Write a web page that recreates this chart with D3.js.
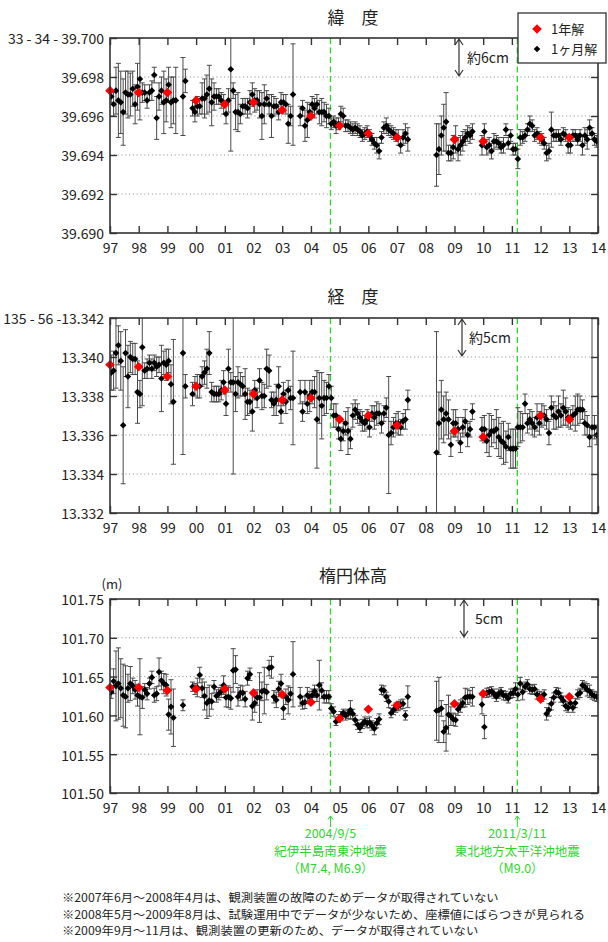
<!DOCTYPE html>
<html><head><meta charset="utf-8">
<script src="https://cdn.jsdelivr.net/npm/d3@7"></script>
<style>
body{margin:0;background:#fff}
text{font-family:"Noto Sans CJK JP","Noto Sans",sans-serif;fill:#222}
</style>
</head><body>
<svg id="chart" width="608" height="942"></svg>
<script>
// ---- data -------------------------------------------------------------
const yearTicks = [1997,1998,1999,2000,2001,2002,2003,2004,2005,2006,2007,2008,2009,2010,2011,2012,2013,2014];
const yearLabels = ["97","98","99","00","01","02","03","04","05","06","07","08","09","10","11","12","13","14"];
const annualYears = [1997,1998,1999,2000,2001,2002,2003,2004,2005,2006,2007,2009,2010,2012,2013];
const eventDates = [2004.68, 2011.19];
const eventLabels = [["2004/9/5","紀伊半島南東沖地震","（M7.4, M6.9）"],["2011/3/11","東北地方太平洋沖地震","（M9.0）"]];

// latitude (seconds), monthly solutions Jan 1997 - Dec 2013
const latMonthly = [
 39.6970,39.6966,39.6973,39.6968,39.6967,39.6962,39.6972,39.6971,39.6971,39.6974,39.6966,39.6975,
 39.6979,39.6972,39.6972,39.6968,39.6972,39.6973,39.6981,39.6959,39.6970,39.6973,39.6967,39.6968,
 39.6976,39.6967,39.6968,39.6968,null,null,39.6970,39.6978,null,null,39.6964,39.6962,
 39.6965,39.6965,39.6969,39.6969,39.6971,39.6974,39.6967,39.6970,39.6970,39.6970,39.6968,39.6966,
 39.6961,39.6968,39.6984,39.6973,39.6962,39.6962,39.6961,39.6965,39.6965,39.6964,39.6967,39.6971,
 39.6968,39.6968,39.6966,39.6960,39.6966,39.6969,39.6966,39.6960,39.6965,39.6965,39.6962,39.6967,
 39.6967,39.6966,39.6956,39.6960,39.6971,null,null,39.6960,39.6964,39.6955,39.6958,39.6962,
 39.6966,39.6964,39.6966,39.6962,39.6962,39.6962,39.6960,39.6960,39.6956,39.6957,39.6955,39.6956,
 39.6961,39.6960,39.6955,39.6955,39.6954,39.6953,39.6954,39.6953,39.6952,39.6950,39.6951,39.6952,
 39.6950,39.6948,39.6946,39.6945,39.6942,39.6949,39.6954,39.6955,39.6953,39.6952,39.6951,39.6950,
 39.6949,39.6945,39.6949,39.6951,39.6948,null,null,null,null,null,null,null,
 null,null,null,null,39.6940,39.6943,39.6950,39.6954,39.6957,39.6941,39.6941,39.6944,
 39.6948,39.6943,39.6945,39.6947,39.6949,39.6951,39.6950,39.6952,null,null,null,39.6945,
 39.6952,39.6944,39.6945,39.6942,39.6947,39.6947,39.6946,39.6944,39.6945,39.6953,39.6946,39.6950,
 39.6943,39.6943,39.6938,39.6949,39.6949,39.6950,39.6953,39.6956,39.6955,39.6950,39.6951,39.6949,
 39.6948,39.6946,39.6941,39.6942,39.6953,39.6950,39.6950,39.6950,39.6948,39.6951,39.6950,39.6945,
 39.6945,39.6950,39.6950,39.6948,39.6950,39.6945,39.6950,39.6948,39.6954,39.6951,39.6948,39.6947
];
const latMonthlyErr = [
 0.0003,0.0006,0.0012,0.0019,0.0016,0.0017,0.0011,0.0012,0.0011,0.0009,0.0010,0.0012,
 0.0021,0.0005,0.0004,0.0004,0.0004,0.0005,0.0004,0.0011,0.0007,0.0007,0.0016,0.0011,
 0.0009,0.0013,0.0012,0.0017,null,null,0.0020,0.0006,null,null,0.0004,0.0005,
 0.0005,0.0004,0.0008,0.0010,0.0010,0.0012,0.0012,0.0007,0.0004,0.0004,0.0004,0.0005,
 0.0005,0.0006,0.0042,0.0004,0.0009,0.0010,0.0005,0.0004,0.0004,0.0005,0.0006,0.0006,
 0.0006,0.0005,0.0007,0.0012,0.0010,0.0004,0.0005,0.0011,0.0005,0.0004,0.0004,0.0005,
 0.0004,0.0005,0.0010,0.0005,0.0026,null,null,0.0005,0.0004,0.0008,0.0009,0.0004,
 0.0004,0.0005,0.0005,0.0006,0.0007,0.0005,0.0006,0.0004,0.0003,0.0003,0.0004,0.0003,
 0.0004,0.0004,0.0003,0.0003,0.0003,0.0003,0.0003,0.0003,0.0003,0.0003,0.0003,0.0003,
 0.0003,0.0003,0.0003,0.0004,0.0004,0.0003,0.0003,0.0004,0.0003,0.0003,0.0003,0.0003,
 0.0004,0.0004,0.0004,0.0005,0.0006,null,null,null,null,null,null,null,
 null,null,null,null,0.0016,0.0013,0.0010,0.0012,0.0015,0.0004,0.0004,0.0006,
 0.0007,0.0006,0.0005,0.0005,0.0004,0.0004,0.0004,0.0004,null,null,null,0.0005,
 0.0004,0.0004,0.0004,0.0004,0.0004,0.0003,0.0003,0.0003,0.0004,0.0003,0.0003,0.0003,
 0.0003,0.0003,0.0005,0.0004,0.0003,0.0003,0.0003,0.0004,0.0003,0.0003,0.0003,0.0003,
 0.0003,0.0003,0.0004,0.0004,0.0009,0.0003,0.0003,0.0003,0.0003,0.0003,0.0003,0.0004,
 0.0004,0.0003,0.0003,0.0003,0.0003,0.0005,0.0004,0.0005,0.0004,0.0003,0.0003,0.0003
];
const latAnnual = [39.6973,39.6972,39.6972,39.6968,39.6966,39.6967,39.6963,39.6960,39.6955,39.6951,39.6949,39.6948,39.6947,39.6949,39.6949];
const latTicks = [39.690,39.692,39.694,39.696,39.698,39.700];
const latTickLabels = ["39.690","39.692","39.694","39.696","39.698","33 - 34 - 39.700"];
const latScaleBar = [39.698, 39.700];

// longitude (seconds)
const lonMonthly = [
 13.3392,13.3393,13.3402,13.3406,13.3398,13.3365,13.3402,13.3390,13.3400,13.3399,13.3399,13.3382,
 13.3381,13.3405,13.3393,13.3394,13.3397,13.3394,13.3397,13.3395,13.3396,13.3389,13.3397,13.3396,
 13.3398,13.3386,13.3377,null,null,null,13.3402,13.3385,null,null,13.3381,13.3385,
 13.3385,13.3385,13.3390,13.3392,13.3394,13.3402,13.3382,13.3381,13.3381,13.3381,13.3383,13.3387,
 13.3376,13.3394,13.3387,13.3387,13.3381,13.3387,13.3386,13.3385,13.3381,13.3377,13.3377,13.3372,
 13.3383,13.3379,13.3388,13.3380,13.3380,13.3394,13.3393,13.3378,13.3376,13.3378,13.3385,13.3372,
 13.3381,13.3377,13.3383,13.3379,13.3379,null,null,13.3382,13.3372,13.3382,13.3376,13.3380,
 13.3382,13.3382,13.3368,13.3379,13.3375,13.3379,13.3379,13.3385,13.3379,13.3370,13.3370,13.3363,
 13.3358,13.3362,13.3366,13.3362,13.3358,13.3370,13.3373,13.3371,13.3369,13.3367,13.3366,13.3368,
 13.3364,13.3371,13.3369,13.3371,13.3371,13.3366,13.3371,13.3374,13.3360,13.3361,13.3364,13.3366,
 13.3366,13.3364,13.3367,13.3368,13.3378,null,null,null,null,null,null,null,
 null,null,null,null,13.3351,13.3366,13.3373,13.3368,13.3371,13.3368,13.3355,13.3366,
 13.3366,13.3363,13.3356,13.3364,13.3367,13.3360,13.3363,13.3372,null,null,null,13.3363,
 13.3363,13.3357,13.3360,13.3362,13.3362,13.3363,13.3359,13.3357,13.3356,13.3354,13.3359,13.3353,
 13.3353,13.3353,13.3364,13.3364,13.3364,13.3376,13.3366,13.3368,13.3366,13.3364,13.3369,13.3366,
 13.3370,13.3370,13.3368,13.3361,13.3374,13.3370,13.3369,13.3372,13.3370,13.3374,13.3372,13.3369,
 13.3368,13.3370,13.3371,13.3373,13.3373,13.3373,13.3366,13.3365,13.3359,13.3364,13.3364,13.3360
];
const lonMonthlyErr = [
 0.0009,0.0010,0.0018,0.0010,0.0015,0.0030,0.0012,0.0016,0.0008,0.0008,0.0008,0.0016,
 0.0007,0.0030,0.0004,0.0005,0.0004,0.0005,0.0004,0.0005,0.0004,0.0017,0.0006,0.0008,
 0.0006,0.0010,0.0032,null,null,null,0.0052,0.0006,null,null,0.0006,0.0005,
 0.0006,0.0006,0.0005,0.0006,0.0010,0.0011,0.0005,0.0004,0.0004,0.0004,0.0005,0.0006,
 0.0006,0.0010,0.0005,0.0047,0.0009,0.0008,0.0006,0.0005,0.0013,0.0007,0.0006,0.0010,
 0.0005,0.0005,0.0006,0.0007,0.0006,0.0010,0.0008,0.0004,0.0006,0.0008,0.0010,0.0006,
 0.0006,0.0006,0.0005,0.0006,0.0024,null,null,0.0006,0.0005,0.0006,0.0005,0.0008,
 0.0006,0.0008,0.0025,0.0013,0.0017,0.0009,0.0008,0.0006,0.0006,0.0006,0.0006,0.0005,
 0.0006,0.0005,0.0006,0.0012,0.0005,0.0006,0.0005,0.0005,0.0004,0.0005,0.0004,0.0005,
 0.0005,0.0004,0.0006,0.0006,0.0005,0.0005,0.0004,0.0005,0.0030,0.0006,0.0005,0.0005,
 0.0006,0.0004,0.0004,0.0005,0.0005,null,null,null,null,null,null,null,
 null,null,null,null,0.0062,0.0016,0.0015,0.0012,0.0011,0.0010,0.0006,0.0007,
 0.0007,0.0006,0.0005,0.0005,0.0006,0.0006,0.0004,0.0004,null,null,null,0.0006,
 0.0007,0.0006,0.0011,0.0008,0.0006,0.0010,0.0010,0.0009,0.0011,0.0008,0.0007,0.0010,
 0.0010,0.0010,0.0010,0.0008,0.0007,0.0005,0.0005,0.0005,0.0006,0.0005,0.0007,0.0006,
 0.0006,0.0005,0.0005,0.0006,0.0006,0.0007,0.0006,0.0008,0.0006,0.0009,0.0007,0.0005,
 0.0005,0.0005,0.0009,0.0008,0.0007,0.0005,0.0006,0.0005,0.0005,0.0060,0.0006,0.0005
];
const lonAnnual = [13.3396,13.3395,13.3390,13.3385,13.3383,13.3381,13.3378,13.3379,13.3368,13.3370,13.3365,13.3362,13.3359,13.3370,13.3368];
const lonTicks = [13.332,13.334,13.336,13.338,13.340,13.342];
const lonTickLabels = ["13.332","13.334","13.336","13.338","13.340","135 - 56 -13.342"];
const lonScaleBar = [13.340, 13.342];

// ellipsoidal height (m)
const hgtMonthly = [
 101.630,101.644,101.638,101.641,101.635,101.626,101.624,101.635,101.641,101.638,101.633,101.626,
 101.624,101.623,101.633,101.628,101.641,101.649,101.626,101.628,101.656,101.645,101.641,101.639,
 101.601,101.611,101.597,null,null,null,101.613,null,null,null,101.637,101.634,
 101.636,101.652,101.635,101.625,101.616,101.619,101.618,101.637,101.625,101.628,101.631,101.639,
 101.623,101.624,101.622,101.658,101.659,101.624,101.629,101.629,101.621,101.648,101.653,101.612,
 101.616,101.623,101.623,101.631,101.632,101.630,101.661,101.662,101.624,101.620,101.634,101.641,
 101.609,101.624,101.620,101.628,101.653,null,null,101.624,101.616,101.617,101.626,101.623,
 101.626,101.631,101.626,101.639,101.632,101.624,101.624,101.624,101.609,101.605,101.592,101.596,
 101.599,101.603,101.600,101.602,101.607,101.602,101.594,101.588,101.584,101.589,101.592,101.590,
 101.591,101.587,101.583,101.590,101.595,101.633,101.632,101.624,101.618,101.603,101.607,101.610,
 101.612,101.614,101.615,101.600,101.624,null,null,null,null,null,null,null,
 null,null,null,null,101.606,101.607,101.609,101.579,101.584,101.601,101.599,101.595,
 101.594,101.608,101.612,101.616,101.623,101.624,101.624,101.624,null,null,null,101.614,
 101.585,101.629,101.630,101.631,101.628,101.624,101.628,101.630,101.626,101.625,101.622,101.628,
 101.629,101.634,101.627,101.641,101.630,101.637,101.640,101.634,101.633,101.634,101.627,101.625,
 101.624,101.627,101.602,101.607,101.615,101.623,101.630,101.629,101.623,101.619,101.612,101.610,
 101.616,101.610,101.616,101.627,101.629,101.639,101.637,101.633,101.631,101.627,101.625,101.624
];
const hgtMonthlyErr = [
 0.008,0.016,0.045,0.046,0.038,0.040,0.040,0.018,0.022,0.010,0.012,0.014,
 0.049,0.014,0.008,0.008,0.007,0.008,0.009,0.009,0.018,0.012,0.013,0.014,
 0.020,0.035,0.037,null,null,null,0.007,null,null,null,0.006,0.007,
 0.012,0.010,0.012,0.018,0.020,0.020,0.010,0.008,0.008,0.008,0.008,0.012,
 0.012,0.014,0.014,0.028,0.018,0.012,0.010,0.009,0.010,0.009,0.008,0.018,
 0.012,0.010,0.032,0.012,0.030,0.010,0.010,0.014,0.008,0.010,0.010,0.012,
 0.014,0.010,0.018,0.008,0.042,null,null,0.012,0.008,0.008,0.010,0.008,
 0.008,0.008,0.008,0.032,0.010,0.008,0.008,0.008,0.006,0.006,0.005,0.005,
 0.006,0.005,0.006,0.006,0.012,0.006,0.006,0.006,0.006,0.006,0.006,0.006,
 0.007,0.006,0.008,0.006,0.007,0.006,0.006,0.006,0.008,0.006,0.006,0.006,
 0.006,0.006,0.006,0.006,0.014,null,null,null,null,null,null,null,
 null,null,null,null,0.038,0.042,0.010,0.014,0.030,0.025,0.012,0.008,
 0.008,0.008,0.008,0.006,0.012,0.010,0.008,0.012,null,null,null,0.012,
 0.015,0.006,0.006,0.006,0.006,0.006,0.006,0.006,0.006,0.006,0.006,0.006,
 0.006,0.008,0.008,0.008,0.010,0.006,0.006,0.006,0.006,0.006,0.006,0.006,
 0.006,0.006,0.008,0.008,0.008,0.006,0.006,0.006,0.006,0.006,0.006,0.006,
 0.006,0.006,0.006,0.006,0.006,0.006,0.006,0.008,0.008,0.006,0.006,0.006
];
const hgtAnnual = [101.636,101.636,101.632,101.634,101.634,101.629,101.627,101.617,101.596,101.608,101.613,101.615,101.628,101.621,101.624];
const hgtTicks = [101.50,101.55,101.60,101.65,101.70,101.75];
const hgtTickLabels = ["101.50","101.55","101.60","101.65","101.70","101.75"];
const hgtScaleBar = [101.70, 101.75];

const footnotes = [
 "※2007年6月～2008年4月は、観測装置の故障のためデータが取得されていない",
 "※2008年5月～2009年8月は、試験運用中でデータが少ないため、座標値にばらつきが見られる",
 "※2009年9月～11月は、観測装置の更新のため、データが取得されていない"
];

// ---- layout -------------------------------------------------------------
const svg = d3.select("#chart");
const X0 = 110, X1 = 598;
const x = d3.scaleLinear().domain([1997, 2014]).range([X0, X1]);
const monthTime = i => 1997 + (i + 0.5) / 12;
const GREEN = "#2bd62b";

const panels = [
 {title:"緯　度", titleY:18, top:38, bottom:233, domain:[39.690,39.700], ticks:latTicks, labels:latTickLabels,
  monthly:latMonthly, err:latMonthlyErr, annual:latAnnual, bar:latScaleBar, barX:459, barText:"約6cm", barTextX:467},
 {title:"経　度", titleY:297, top:318, bottom:513, domain:[13.332,13.342], ticks:lonTicks, labels:lonTickLabels,
  monthly:lonMonthly, err:lonMonthlyErr, annual:lonAnnual, bar:lonScaleBar, barX:462, barText:"約5cm", barTextX:469},
 {title:"楕円体高", titleY:576, top:599, bottom:793, domain:[101.50,101.75], ticks:hgtTicks, labels:hgtTickLabels,
  monthly:hgtMonthly, err:hgtMonthlyErr, annual:hgtAnnual, bar:hgtScaleBar, barX:464, barText:"5cm", barTextX:475}
];

const diamond = r => `M0,${-r}L${r},0L0,${r}L${-r},0Z`;

panels.forEach((p, pi) => {
  const y = d3.scaleLinear().domain(p.domain).range([p.bottom, p.top]);
  const g = svg.append("g");
  const clipId = "plotclip" + pi;
  svg.append("clipPath").attr("id", clipId).append("rect")
    .attr("x", X0).attr("y", p.top).attr("width", X1 - X0).attr("height", p.bottom - p.top);

  // title
  g.append("text").attr("x", 353).attr("y", p.titleY).attr("dy", "0.35em")
    .attr("text-anchor", "middle").attr("font-size", 17).text(p.title);

  // dotted grid
  g.append("g").selectAll("line").data(p.ticks.slice(1, -1)).join("line")
    .attr("x1", X0).attr("x2", X1).attr("y1", d => y(d)).attr("y2", d => y(d))
    .attr("stroke", "#9a9a9a").attr("stroke-width", 1).attr("stroke-dasharray", "1.2,2.6");

  // earthquake dates
  g.append("g").selectAll("line").data(eventDates).join("line")
    .attr("x1", d => x(d)).attr("x2", d => x(d)).attr("y1", p.top).attr("y2", p.bottom)
    .attr("stroke", GREEN).attr("stroke-width", 1.3).attr("stroke-dasharray", "6,3.5");

  // monthly solutions with error bars
  const pts = p.monthly.map((v, i) => ({t: monthTime(i), v, e: p.err[i]})).filter(d => d.v != null);
  const eb = g.append("g").attr("clip-path", `url(#${clipId})`)
    .attr("stroke", "#4a4a4a").attr("stroke-width", 1).attr("fill", "none");
  eb.selectAll("path").data(pts).join("path")
    .attr("d", d => {
      const xx = x(d.t), y1 = y(d.v - d.e), y2 = y(d.v + d.e);
      return `M${xx},${y1}V${y2}M${xx - 2.5},${y1}H${xx + 2.5}M${xx - 2.5},${y2}H${xx + 2.5}`;
    });
  g.append("g").attr("clip-path", `url(#${clipId})`).selectAll("path").data(pts).join("path")
    .attr("transform", d => `translate(${x(d.t)},${y(d.v)})`)
    .attr("d", diamond(3.3)).attr("fill", "#000");

  // annual solutions
  g.append("g").selectAll("path").data(p.annual.map((v, i) => ({t: annualYears[i], v}))).join("path")
    .attr("transform", d => `translate(${x(d.t)},${y(d.v)})`)
    .attr("d", diamond(4.8)).attr("fill", "#ff0000");

  // axes (inward ticks)
  const bottomAxis = d3.axisBottom(x).tickValues(yearTicks).tickFormat((d, i) => yearLabels[i])
    .tickSizeInner(-7).tickSizeOuter(0).tickPadding(10);
  const ax = g.append("g").attr("transform", `translate(0,${p.bottom})`).call(bottomAxis);
  const topAxis = d3.axisTop(x).tickValues(yearTicks).tickFormat("").tickSizeInner(-7).tickSizeOuter(0);
  const at = g.append("g").attr("transform", `translate(0,${p.top})`).call(topAxis);
  const leftAxis = d3.axisLeft(y).tickValues(p.ticks).tickFormat((d, i) => p.labels[i])
    .tickSizeInner(-7).tickSizeOuter(0).tickPadding(6);
  const al = g.append("g").attr("transform", `translate(${X0},0)`).call(leftAxis);
  const rightAxis = d3.axisRight(y).tickValues(p.ticks).tickFormat("").tickSizeInner(-7).tickSizeOuter(0);
  const ar = g.append("g").attr("transform", `translate(${X1},0)`).call(rightAxis);
  [ax, at, al, ar].forEach(a => {
    a.select(".domain").remove();
    a.selectAll(".tick line").attr("stroke", "#333").attr("stroke-width", 1.4);
    a.selectAll("text").attr("font-size", 14).attr("fill", "#222")
      .attr("font-family", '"Noto Sans CJK JP","Noto Sans",sans-serif');
  });
  al.selectAll("text").attr("dy", "0.42em");

  // frame
  g.append("rect").attr("x", X0).attr("y", p.top).attr("width", X1 - X0).attr("height", p.bottom - p.top)
    .attr("fill", "none").attr("stroke", "#333").attr("stroke-width", 1.6);

  // size bar (double arrow)
  const ya = y(p.bar[1]), yb = y(p.bar[0]), bx = p.barX;
  g.append("path")
    .attr("d", `M${bx},${ya + 1}V${yb - 1}M${bx - 4},${ya + 7}L${bx},${ya + 1}L${bx + 4},${ya + 7}M${bx - 4},${yb - 7}L${bx},${yb - 1}L${bx + 4},${yb - 7}`)
    .attr("fill", "none").attr("stroke", "#333").attr("stroke-width", 1.2);
  g.append("text").attr("x", p.barTextX).attr("y", (ya + yb) / 2 + 1).attr("dy", "0.35em")
    .attr("font-size", 14).text(p.barText);
});

// unit label for height panel
svg.append("text").attr("x", 112).attr("y", 584).attr("dy", "0.35em").attr("text-anchor", "middle")
  .attr("font-size", 13).text("(m)");

// legend
const lg = svg.append("g");
lg.append("rect").attr("x", 518).attr("y", 13).attr("width", 88).attr("height", 50)
  .attr("fill", "#fff").attr("stroke", "#333").attr("stroke-width", 1.3);
lg.append("path").attr("transform", "translate(537,29)").attr("d", diamond(4.8)).attr("fill", "#ff0000");
lg.append("text").attr("x", 551).attr("y", 29).attr("dy", "0.35em").attr("font-size", 13).text("1年解");
lg.append("path").attr("transform", "translate(537,49)").attr("d", diamond(3.3)).attr("fill", "#000");
lg.append("text").attr("x", 551).attr("y", 49).attr("dy", "0.35em").attr("font-size", 13).text("1ヶ月解");

// earthquake notes under the height panel
eventDates.forEach((d, i) => {
  const xx = x(d);
  svg.append("path").attr("d", `M${xx},827V816M${xx - 2.5},819.5L${xx},816L${xx + 2.5},819.5`)
    .attr("fill", "none").attr("stroke", GREEN).attr("stroke-width", 1);
  eventLabels[i].forEach((s, k) => {
    svg.append("text").attr("x", xx).attr("y", 834 + k * 17.5).attr("dy", "0.35em")
      .attr("text-anchor", "middle").attr("font-size", 12.5).style("fill", GREEN).text(s);
  });
});

// footnotes (slightly widened glyphs, compact line height)
footnotes.forEach((s, k) => {
  svg.append("text").attr("transform", `translate(62,${898 + k * 16.6}) scale(1.09,1)`)
    .attr("dy", "0.35em").attr("font-size", 11.3).text(s);
});
</script>
</body></html>
